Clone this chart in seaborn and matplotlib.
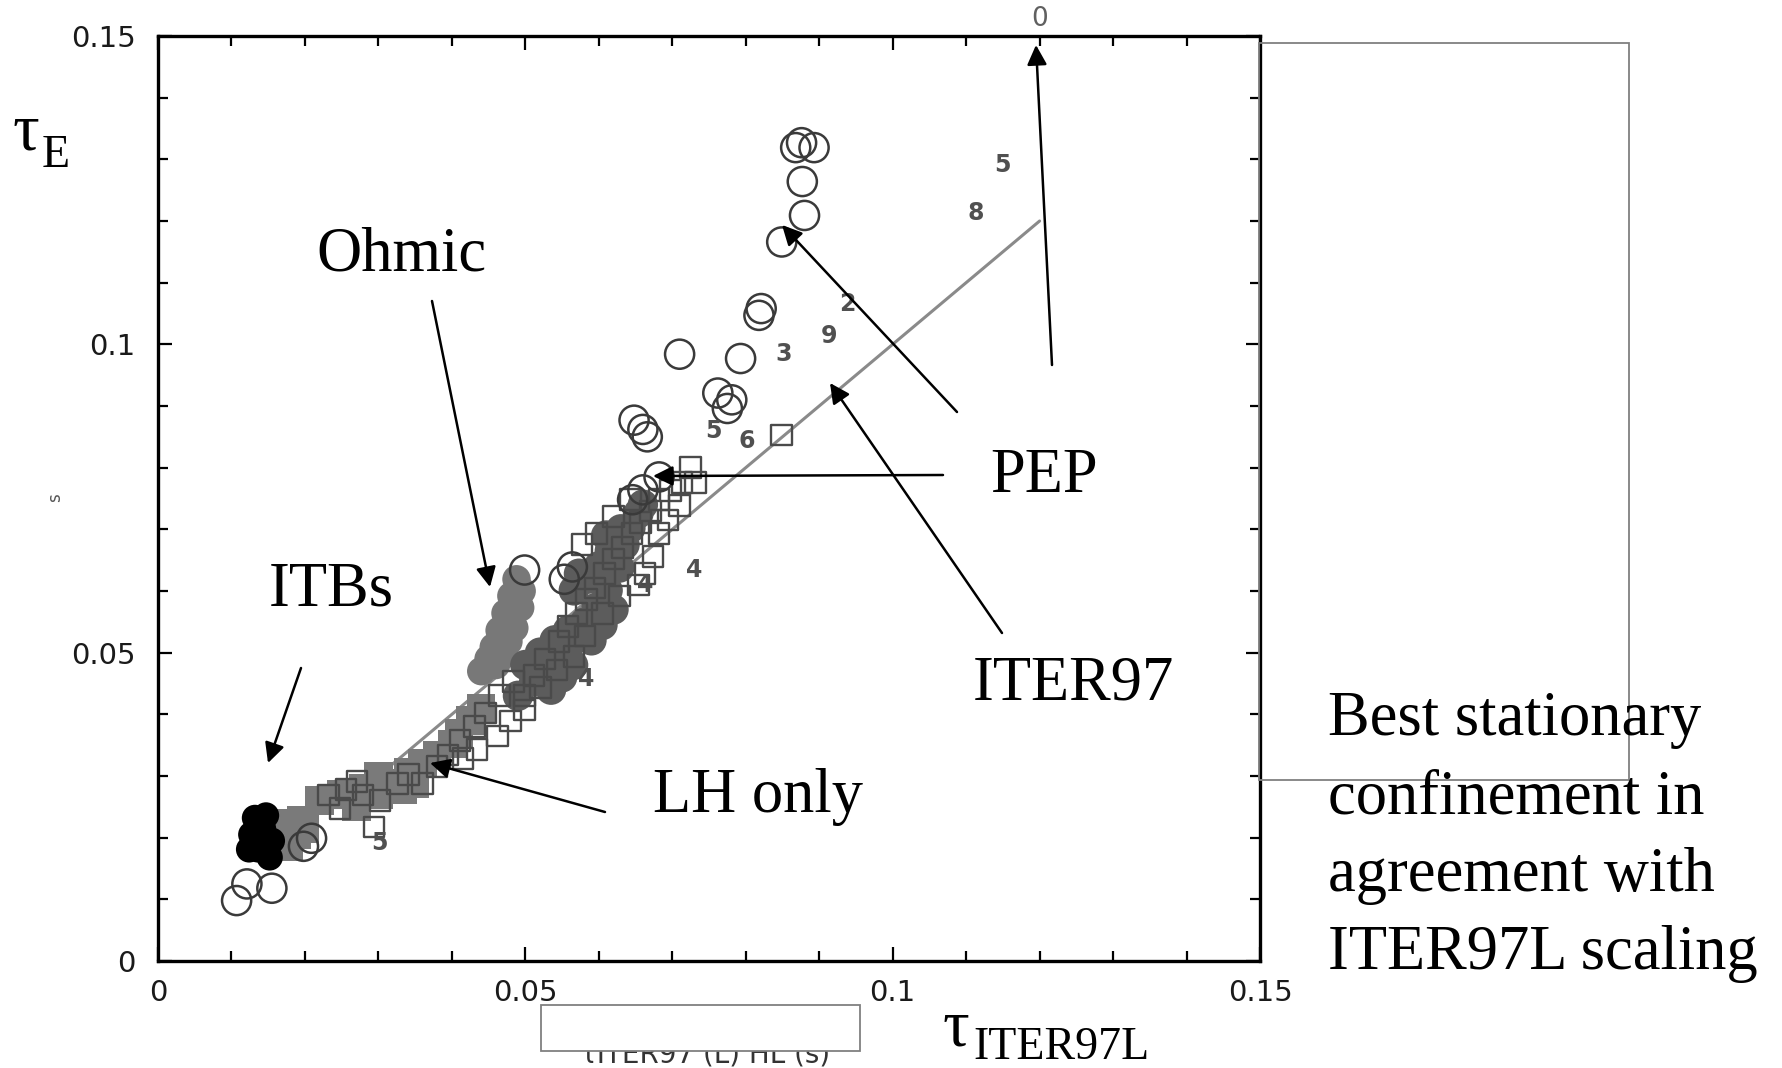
import matplotlib
matplotlib.use("Agg")
import matplotlib.pyplot as plt
from matplotlib.patches import Rectangle
from matplotlib.ticker import FixedLocator, FixedFormatter, MultipleLocator
import seaborn as sns

# ---------------- data ----------------
tick_values = [0.0, 0.05, 0.10, 0.15]
tick_labels = ["0", "0.05", "0.1", "0.15"]

# ITER97 reference line (tau_E = tau_ITER97L)
iter_x = [0.030, 0.120]
iter_y = [0.030, 0.120]

# open circles
circ_x = [0.0876, 0.0893, 0.0868, 0.0877, 0.0880, 0.0849, 0.0821, 0.0818,
          0.0710, 0.0793, 0.0762, 0.0781, 0.0775, 0.0648, 0.0660, 0.0666,
          0.0499, 0.0107, 0.0121, 0.0155, 0.0209, 0.0198, 0.0660, 0.0682,
          0.0646, 0.0564, 0.0553]
circ_y = [0.1327, 0.1319, 0.1319, 0.1264, 0.1209, 0.1166, 0.1058, 0.1047,
          0.0984, 0.0977, 0.0921, 0.0910, 0.0896, 0.0877, 0.0862, 0.0850,
          0.0634, 0.0098, 0.0125, 0.0118, 0.0199, 0.0186, 0.0764, 0.0785,
          0.0748, 0.0639, 0.0619]

# open squares (main band)
sq_x = [0.0232, 0.0256, 0.0279, 0.0302, 0.0294, 0.0248, 0.0271, 0.0326,
        0.0341, 0.0360, 0.0380, 0.0395, 0.0411, 0.0431, 0.0446, 0.0465,
        0.0484, 0.0499, 0.0512, 0.0527, 0.0546, 0.0558, 0.0570, 0.0583,
        0.0595, 0.0608, 0.0620, 0.0632, 0.0645, 0.0657, 0.0670, 0.0682,
        0.0698, 0.0713, 0.0725, 0.0732, 0.0710, 0.0694, 0.0682, 0.0674,
        0.0663, 0.0654, 0.0628, 0.0605, 0.0581, 0.0566, 0.0543, 0.0521,
        0.0499, 0.0480, 0.0462, 0.0434, 0.0415, 0.0577, 0.0597, 0.0620,
        0.0643, 0.0849]
sq_y = [0.0269, 0.0278, 0.0269, 0.0260, 0.0217, 0.0247, 0.0291, 0.0288,
        0.0302, 0.0288, 0.0315, 0.0334, 0.0358, 0.0380, 0.0402, 0.0431,
        0.0453, 0.0431, 0.0463, 0.0490, 0.0518, 0.0542, 0.0564, 0.0586,
        0.0605, 0.0628, 0.0652, 0.0671, 0.0693, 0.0711, 0.0730, 0.0748,
        0.0763, 0.0776, 0.0800, 0.0776, 0.0739, 0.0715, 0.0693, 0.0656,
        0.0628, 0.0610, 0.0592, 0.0564, 0.0527, 0.0494, 0.0472, 0.0444,
        0.0407, 0.0389, 0.0365, 0.0343, 0.0328, 0.0675, 0.0693, 0.0721,
        0.0748, 0.0853]

# filled mid-grey (Ohmic + LH only)
ohm_x = [0.0488, 0.0481, 0.0473, 0.0465, 0.0457, 0.0450, 0.0477, 0.0493,
         0.0440, 0.0460, 0.0470, 0.0485, 0.0495]
ohm_y = [0.0619, 0.0592, 0.0564, 0.0536, 0.0509, 0.0490, 0.0518, 0.0573,
         0.0470, 0.0480, 0.0500, 0.0540, 0.0600]
lh_x = [0.0318, 0.0341, 0.0360, 0.0380, 0.0400, 0.0333, 0.0349,
        0.0178, 0.0189, 0.0178, 0.0195, 0.0170,
        0.0220, 0.0250, 0.0280, 0.0300, 0.0410, 0.0425, 0.0440, 0.0300,
        0.0270, 0.0200]
lh_y = [0.0288, 0.0306, 0.0321, 0.0334, 0.0352, 0.0278, 0.0288,
        0.0223, 0.0205, 0.0186, 0.0229, 0.0205,
        0.0260, 0.0270, 0.0280, 0.0270, 0.0370, 0.0390, 0.0410, 0.0300,
        0.0250, 0.0215]

# filled dark grey (main band)
band_x = [0.0512, 0.0527, 0.0543, 0.0558, 0.0573, 0.0581, 0.0597, 0.0612,
          0.0628, 0.0635, 0.0643, 0.0654, 0.0558, 0.0566, 0.0573,
          0.0535, 0.0550, 0.0565, 0.0590, 0.0605, 0.0620, 0.0600, 0.0585,
          0.0615, 0.0630, 0.0610, 0.0660, 0.0500, 0.0520, 0.0540, 0.0490]
band_y = [0.0453, 0.0472, 0.0490, 0.0509, 0.0527, 0.0549, 0.0573, 0.0601,
          0.0638, 0.0675, 0.0702, 0.0726, 0.0536, 0.0601, 0.0628,
          0.0440, 0.0460, 0.0480, 0.0520, 0.0545, 0.0570, 0.0640, 0.0620,
          0.0665, 0.0700, 0.0690, 0.0740, 0.0480, 0.0500, 0.0520, 0.0430]

# filled black (ITBs)
itb_x = [0.0132, 0.0147, 0.0127, 0.0143, 0.0155, 0.0136, 0.0152, 0.0124]
itb_y = [0.0232, 0.0236, 0.0205, 0.0214, 0.0195, 0.0181, 0.0168, 0.0181]

# numeric shot markers
num_x = [0.1150, 0.1113, 0.0938, 0.0913, 0.0852, 0.0756, 0.0801, 0.0730,
         0.0583, 0.0663, 0.0301]
num_y = [0.1290, 0.1213, 0.1065, 0.1014, 0.0984, 0.0859, 0.0844, 0.0634,
         0.0457, 0.0610, 0.0192]
num_txt = ["5", "8", "2", "9", "3", "5", "6", "4", "4", "4", "5"]

# ---------------- figure ----------------
sns.set_theme(style="ticks")
plt.rcParams['font.family'] = ['DejaVu Sans']
plt.rcParams['text.color'] = 'black'

W, H = 1782, 1068
fig = plt.figure(figsize=(W / 100, H / 100), dpi=100)
fig.patch.set_facecolor("white")
ax = fig.add_axes([158 / W, 1 - 961 / H, (1260 - 158) / W, (961 - 36) / H])
ax.set_facecolor("white")

sns.lineplot(x=iter_x, y=iter_y, color="#8a8a8a", lw=2.2, ax=ax, zorder=2)
sns.scatterplot(x=lh_x, y=lh_y, marker="s", s=420, color="#7a7a7a",
                edgecolor="none", ax=ax, zorder=3)
sns.scatterplot(x=ohm_x, y=ohm_y, marker="o", s=420, color="#787878",
                edgecolor="none", ax=ax, zorder=3)
sns.scatterplot(x=band_x, y=band_y, marker="o", s=480, color="#5c5c5c",
                edgecolor="none", ax=ax, zorder=3)
sns.scatterplot(x=itb_x, y=itb_y, marker="o", s=360, color="black",
                edgecolor="none", ax=ax, zorder=4)
sns.scatterplot(x=sq_x, y=sq_y, marker="s", s=220, color="#4a4a4a",
                facecolor="none", edgecolor="#4a4a4a", linewidth=1.7,
                ax=ax, zorder=5)
sns.scatterplot(x=circ_x, y=circ_y, marker="o", s=440, color="#3a3a3a",
                facecolor="none", edgecolor="#3a3a3a", linewidth=1.8,
                ax=ax, zorder=5)
for xv, yv, t in zip(num_x, num_y, num_txt):
    ax.text(xv, yv, t, fontsize=17, color="#505050", ha="center",
            va="center", fontweight="bold", zorder=6)
ax.text(0.12, 0.1527, "0", fontsize=19, color="#606060", ha="center",
        va="center", clip_on=False)

ax.set_xlim(0, 0.15)
ax.set_ylim(0, 0.15)
ax.xaxis.set_major_locator(FixedLocator(tick_values))
ax.yaxis.set_major_locator(FixedLocator(tick_values))
ax.xaxis.set_major_formatter(FixedFormatter(tick_labels))
ax.yaxis.set_major_formatter(FixedFormatter(tick_labels))
ax.xaxis.set_minor_locator(MultipleLocator(0.01))
ax.yaxis.set_minor_locator(MultipleLocator(0.01))
ax.tick_params(which="both", direction="in", top=True, right=True,
               color="black", width=1.6)
ax.tick_params(which="major", length=10, labelsize=21, labelcolor="#1a1a1a")
ax.tick_params(which="minor", length=7)
ax.tick_params(axis="x", which="major", pad=13)
ax.tick_params(axis="y", which="major", pad=16)
for sp in ax.spines.values():
    sp.set_visible(True)
    sp.set_color("black")
    sp.set_linewidth(2.4)
ax.set_xlabel("")
ax.set_ylabel("")

# ---------------- annotations ----------------
serif = ["Liberation Serif", "DejaVu Serif"]


def ftext(x, y, s, size=45, **kw):
    fig.text(x / W, 1 - y / H, s, fontsize=size, family=serif,
             va="baseline", ha="left", color="black", **kw)


ftext(13, 150, "τ", size=48)
ftext(42, 167, "E", size=33)
ftext(943, 1045, "τ", size=48)
ftext(973, 1059, "ITER97L", size=33)
ftext(316, 270, "Ohmic")
ftext(269, 606, "ITBs")
ftext(990, 492, "PEP")
ftext(973, 699, "ITER97")
ftext(653, 812, "LH only")
for i, line in enumerate(["Best stationary", "confinement in",
                          "agreement with", "ITER97L scaling"]):
    ftext(1328, 735 + i * 78, line, zorder=4)

fig.text(55 / W, 1 - 498 / H, "s", fontsize=12, color="#555555",
         rotation=90, ha="center", va="center")
fig.text(705 / W, 1 - 1062 / H, "τITER97 (L) HL (s)", fontsize=20,
         color="#333333", ha="center", va="baseline", zorder=1)

arrows = [((432, 301), (490, 587)),
          ((301, 668), (268, 763)),
          ((943, 475), (653, 476)),
          ((957, 412), (782, 225)),
          ((1052, 365), (1036, 45)),
          ((1002, 633), (830, 383)),
          ((605, 812), (430, 763))]
for (tx, ty), (hx, hy) in arrows:
    ax.annotate("", xy=(hx, H - hy), xycoords="figure pixels",
                xytext=(tx, H - ty), textcoords="figure pixels",
                arrowprops=dict(arrowstyle="-|>", color="black", lw=1.8,
                                mutation_scale=30, shrinkA=0, shrinkB=0),
                annotation_clip=False, zorder=7)

# grey boxes from the slide
fig.add_artist(Rectangle((1259 / W, 1 - 780 / H), (1629 - 1259) / W,
                         (780 - 43) / H, transform=fig.transFigure,
                         fill=False, edgecolor="#808080", lw=1.3, zorder=2))
fig.add_artist(Rectangle((541 / W, 1 - 1051 / H), (860 - 541) / W,
                         (1051 - 1005) / H, transform=fig.transFigure,
                         facecolor="white", edgecolor="#808080", lw=1.3,
                         zorder=2))

fig.savefig("out.png", dpi=100)
